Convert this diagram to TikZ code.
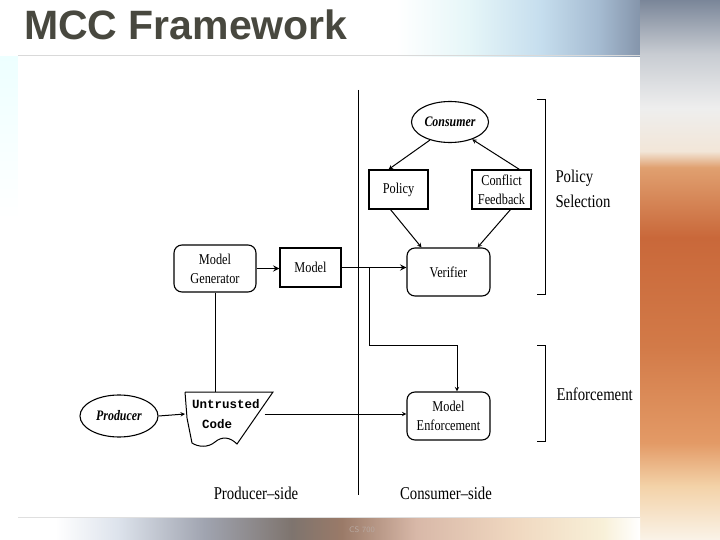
\documentclass[tikz,border=0pt]{standalone}
\usepackage{fontspec}
\usetikzlibrary{shapes.geometric,calc}
\newfontfamily\figfont[FakeStretch=0.82]{Liberation Serif}
\newfontfamily\codefont{Liberation Mono}
\newfontfamily\titlefont{Liberation Sans}
\definecolor{titlegray}{HTML}{48483F}
\definecolor{footgray}{HTML}{B8A8A0}
% shadings are used only between 25bp and 75bp
\pgfdeclarehorizontalshading{topband}{100bp}{color(0bp)=(white); color(30bp)=(white); color(40bp)=(rgb,255:red,230;green,246;blue,248); color(50bp)=(rgb,255:red,198;green,222;blue,238); color(58bp)=(rgb,255:red,166;green,188;blue,210); color(64bp)=(rgb,255:red,132;green,148;blue,170); color(75bp)=(rgb,255:red,106;green,120;blue,144); color(100bp)=(rgb,255:red,106;green,120;blue,144)}
\pgfdeclarehorizontalshading{bottomband}{100bp}{color(0bp)=(white); color(28bp)=(white); color(33bp)=(rgb,255:red,221;green,227;blue,236); color(40bp)=(rgb,255:red,160;green,164;blue,176); color(47bp)=(rgb,255:red,126;green,116;blue,110); color(51bp)=(rgb,255:red,154;green,122;blue,104); color(57bp)=(rgb,255:red,216;green,184;blue,168); color(65bp)=(rgb,255:red,240;green,216;blue,192); color(72bp)=(rgb,255:red,248;green,240;blue,216); color(75bp)=(white); color(100bp)=(white)}
\pgfdeclareverticalshading{rightband}{100bp}{color(0bp)=(rgb,255:red,250;green,243;blue,232); color(25bp)=(rgb,255:red,250;green,243;blue,232); color(30bp)=(rgb,255:red,243;green,210;blue,168); color(34bp)=(rgb,255:red,227;green,154;blue,102); color(43bp)=(rgb,255:red,210;green,122;blue,72); color(53bp)=(rgb,255:red,201;green,104;blue,58); color(59.5bp)=(rgb,255:red,224;green,160;blue,112); color(61bp)=(rgb,255:red,242;green,230;blue,216); color(65bp)=(rgb,255:red,238;green,238;blue,238); color(70bp)=(rgb,255:red,200;green,204;blue,210); color(75bp)=(rgb,255:red,122;green,134;blue,153); color(100bp)=(rgb,255:red,122;green,134;blue,153)}
\begin{document}
\begin{tikzpicture}[x=1pt,y=-1pt,>=stealth,
  every node/.style={font=\figfont\fontsize{15}{19}\selectfont},
  box/.style={draw,line width=1.1pt,minimum width=59pt,minimum height=39pt,inner sep=1pt,align=center},
  rbox/.style={box,rounded corners=8pt,minimum width=83pt,minimum height=48pt},
  oval/.style={draw,ellipse,line width=1.1pt,inner sep=0pt,minimum width=77pt,minimum height=41pt,font=\figfont\itshape\bfseries\fontsize{14.5}{16}\selectfont},
  lab/.style={font=\figfont\fontsize{18}{25}\selectfont,align=left}]
\useasboundingbox (0,0) rectangle (720,540);
% slide background
\fill[white] (0,0) rectangle (720,540);
\shade[shading=topband] (360,0) rectangle (720,57);
\shade[shading=rightband] (640,0) rectangle (720,540);
\shade[shading=bottomband] (18,517) rectangle (640,540);
\shade[top color=cyan!7,bottom color=white] (0,57) rectangle (18,220);
\fill[white] (18,57) rectangle (640,517);
\draw[gray!30,line width=1pt] (18,56) -- (640,56);
\draw[gray!25] (18,517) -- (640,517);
\node[font=\titlefont\bfseries\fontsize{41}{44}\selectfont,text=titlegray,anchor=base west,inner sep=0pt] (title) at (24,40) {MCC Framework};
\node[font=\sffamily\fontsize{8}{9}\selectfont,text=footgray] (foot) at (362,530) {CS 700};

% divider
\draw[line width=1pt] (358,90) -- (358,495);

% nodes
\node[oval] (cons) at (450,122) {Consumer};
\node[box] (pol) at (398.5,189.5) {Policy};
\node[box] (conf) at (501.5,189.5) {Conflict\\Feedback};
\node[rbox] (ver) at (448.5,272) {Verifier};
\node[rbox,minimum width=82pt,minimum height=47pt] (mg) at (215,268.5) {Model\\Generator};
\node[box,minimum width=61pt] (mod) at (310.5,267.5) {Model};
\node[rbox] (enf) at (448.5,416) {Model\\Enforcement};
\node[oval,minimum width=78pt,minimum height=42pt] (prod) at (119,416) {Producer};
\node[minimum width=77pt,minimum height=44pt,inner sep=0pt,align=left,font=\codefont\bfseries\fontsize{12.5}{20}\selectfont] (code) at (226,414) {Untrusted\\\hspace*{10pt}Code};
\draw[line width=1pt] (185,392) -- (273,392) -- (237,444)
  .. controls (230,437) and (222,436) .. (215,442)
  .. controls (208,448) and (198,447) .. (192,443) -- (187,418) -- (185,392);

% brackets and side labels
\draw[line width=1pt] (537,100) -- (545,100) -- (545,294) -- (537,294);
\draw[line width=1pt] (537,345) -- (545,345) -- (545,441) -- (537,441);
\node[lab,anchor=west] (sel) at (552,189) {Policy\\Selection};
\node[lab,anchor=west] (enfl) at (553,394) {Enforcement};
\node[lab] (pside) at (256,493) {Producer–side};
\node[lab] (cside) at (446,493) {Consumer–side};

% connectors
\draw[->,line width=1pt] (cons.222) -- ($(pol.north)+(-10,0)$);
\draw[->,line width=1pt] ($(conf.north)+(18,0)$) -- (cons.-38);
\draw[->,line width=1pt] ($(pol.south)+(-8,0)$) -- ($(ver.north)+(-27,0)$);
\draw[->,line width=1pt] ($(conf.south)+(9,0)$) -- ($(ver.north)+(29,0)$);
\draw[->,line width=1.8pt] (mg.east) -- (mg.east -| mod.west);
\draw[->,line width=1.8pt] (mod.east) -- (mod.east -| ver.west);
\coordinate (br1) at (369,268);
\coordinate (br2) at (369,345);
\coordinate (br3) at (457,345);
\draw[->,line width=1pt] (br1) -- (br2) -- (br3) -- (br3 |- enf.north);
\draw[line width=1pt] (mg.south) -- (mg.south |- code.north);
\draw[->,line width=1pt] (prod.east) -- (185,414);
\draw[->,line width=1pt] (code.east) -- (code.east -| enf.west);
\end{tikzpicture}
\end{document}
